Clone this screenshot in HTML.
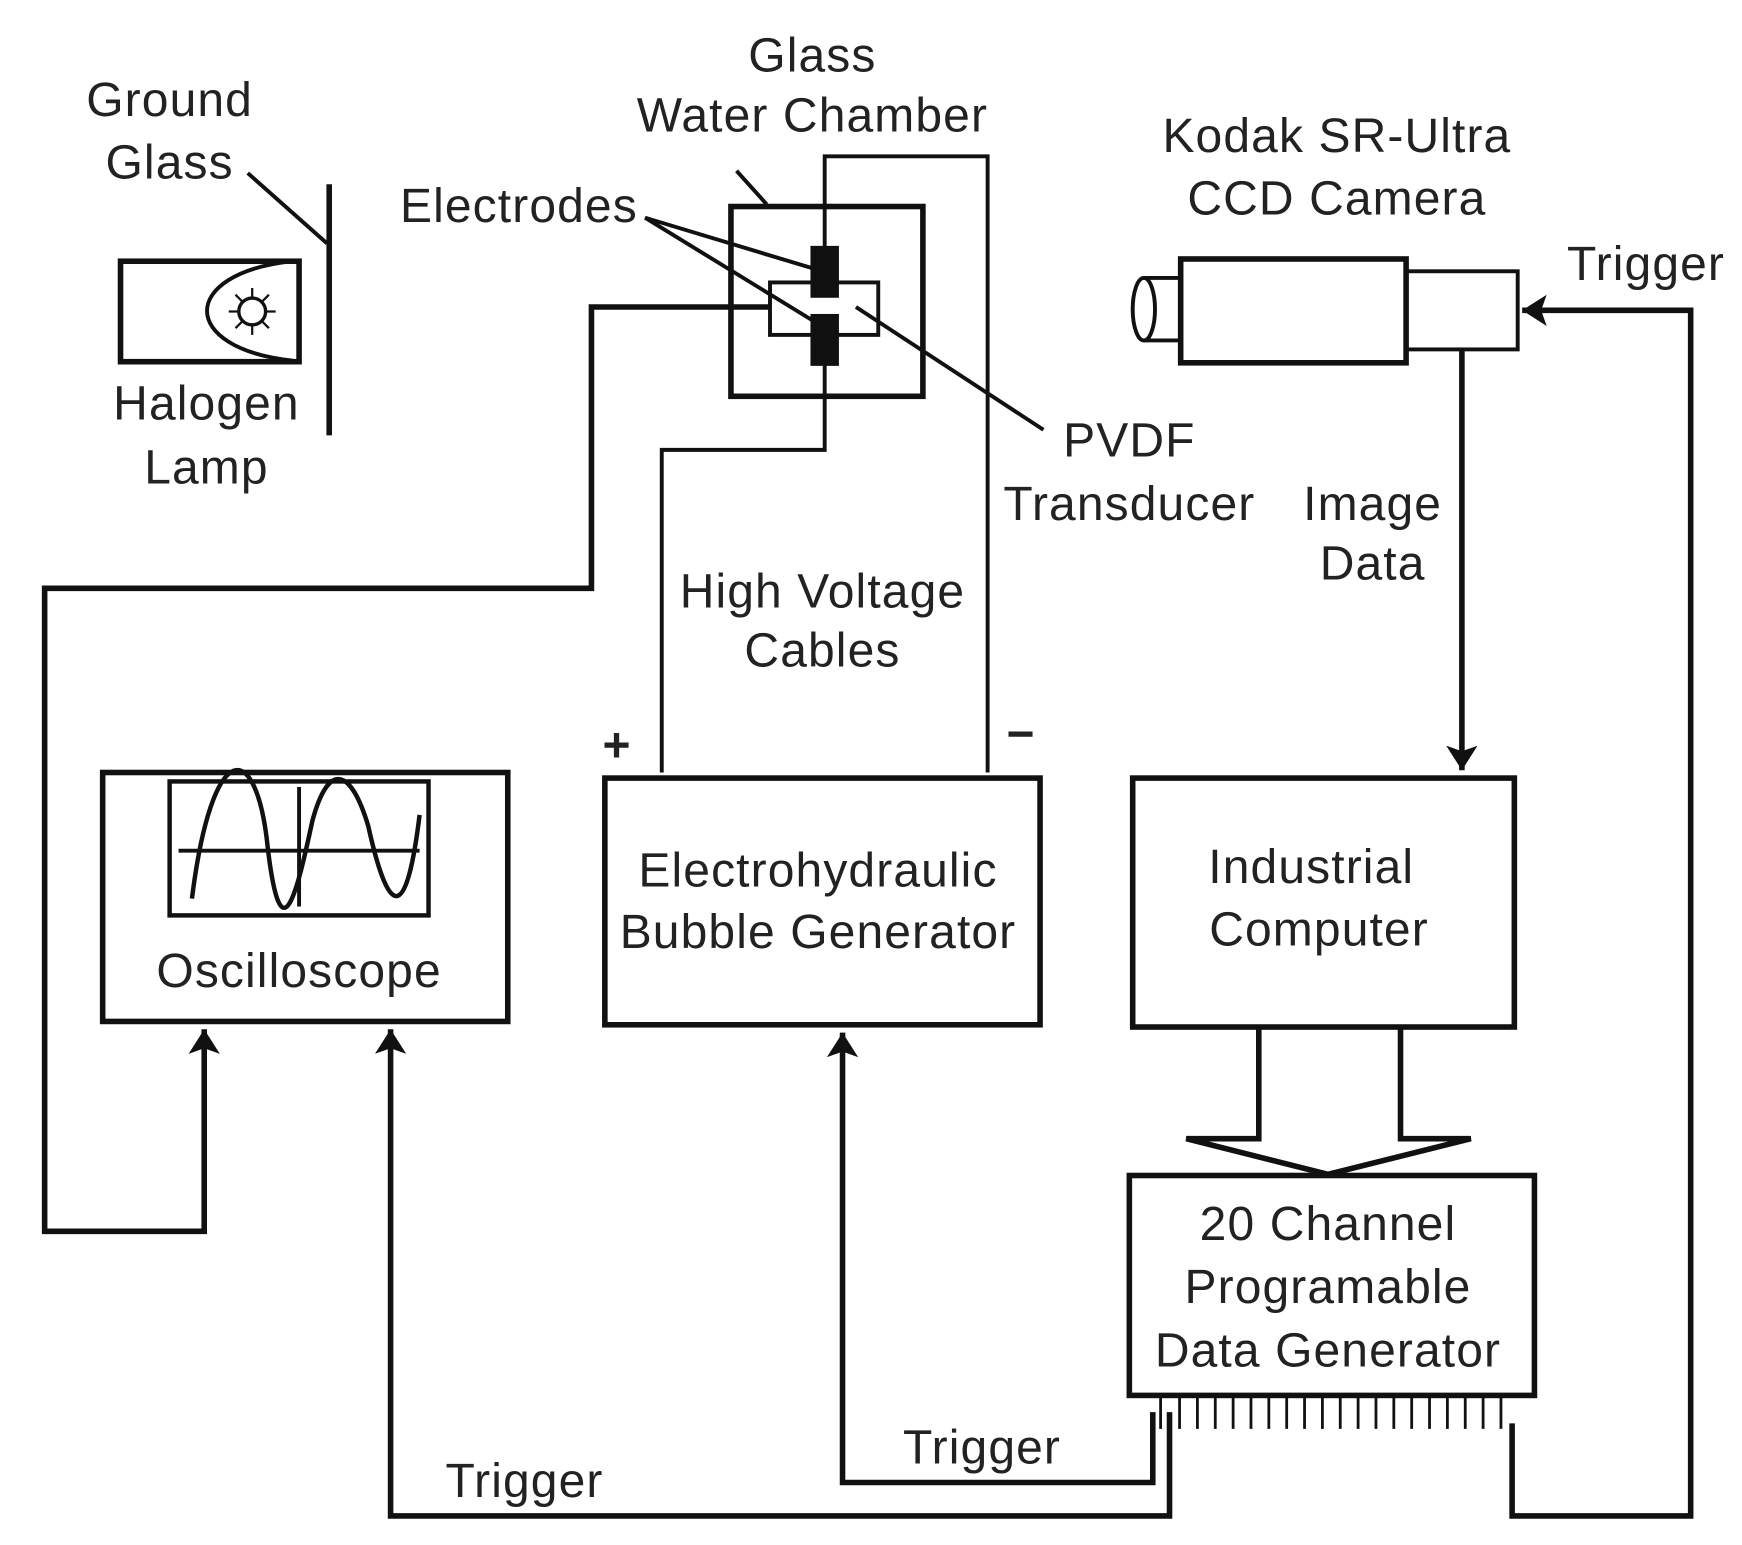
<!DOCTYPE html>
<html><head><meta charset="utf-8"><style>html,body{margin:0;padding:0;background:#fff}svg{display:block}</style></head>
<body>
<svg width="1742" height="1545" viewBox="0 0 1561 1384" preserveAspectRatio="none" xmlns="http://www.w3.org/2000/svg" font-family="Liberation Sans, sans-serif" font-size="43" letter-spacing="1" text-anchor="middle" fill="#222">
<defs>
<marker id="b" markerWidth="22" markerHeight="28" refX="22" refY="14" orient="auto" markerUnits="userSpaceOnUse"><path d="M0,0 L22,14 L0,28 L5,14 z" fill="#111"/></marker></defs>
<g stroke="#111" fill="none" stroke-width="3.5">
<line x1="295" y1="165" x2="295" y2="390" stroke-width="5"/>
<line x1="222" y1="155" x2="293" y2="218"/>
<rect x="108" y="234" width="160" height="90" stroke-width="5"/>
<path d="M262,234 C160,245 160,312 262,323"/>
<path d="M226,258 L226,300 M205,279 L247,279 M211,264 L241,294 M241,264 L211,294" stroke-width="2"/>
<circle cx="226" cy="279" r="12" fill="#fff" stroke="#111" stroke-width="3"/>
<line x1="660" y1="153" x2="687" y2="183"/>
<rect x="655" y="185" width="172" height="170" stroke-width="5"/>
<rect x="690" y="253" width="97" height="47"/>
<rect x="728" y="222" width="22" height="43" fill="#111"/>
<rect x="728" y="283" width="22" height="43" fill="#111"/>
<polyline points="739,222 739,140 885,140 885,692"/>
<polyline points="739,326 739,403 593,403 593,692"/>
<line x1="578" y1="195" x2="727" y2="240"/>
<line x1="578" y1="195" x2="733" y2="290"/>
<line x1="767" y1="275" x2="935" y2="385"/>
<polyline points="690,275 530,275 530,527 40,527 40,1103 183,1103 183,922" stroke-width="5" marker-end="url(#b)"/>
<ellipse cx="1025" cy="277" rx="10" ry="28"/>
<line x1="1025" y1="249" x2="1058" y2="249"/><line x1="1025" y1="305" x2="1058" y2="305"/>
<rect x="1058" y="232" width="202" height="93" stroke-width="5"/>
<rect x="1260" y="243" width="100" height="70"/>
<line x1="1310" y1="313" x2="1310" y2="690" stroke-width="5" marker-end="url(#b)"/>
<polyline points="1355,1275 1355,1358 1515,1358 1515,278 1364,278" stroke-width="5" marker-end="url(#b)"/>
<rect x="92" y="692" width="363" height="223" stroke-width="5"/>
<rect x="152" y="700" width="232" height="120" stroke-width="4"/>
<line x1="160" y1="762" x2="376" y2="762"/>
<line x1="268" y1="705" x2="268" y2="812"/>
<path d="M172,805 C190,660 230,660 240,760 C252,860 266,800 280,735 C295,680 315,690 330,740 C350,830 365,820 376,730" stroke-width="4"/>
<rect x="542" y="697" width="390" height="221" stroke-width="5"/>
<rect x="1015" y="697" width="342" height="223" stroke-width="5"/>
<polyline points="1128,920 1128,1020 1063,1020 1190,1052 1318,1020 1255,1020 1255,920" stroke-width="5"/>
<rect x="1012" y="1053" width="363" height="197" stroke-width="5"/>
<g stroke-width="2.5">
<path d="M1040,1252v28M1057,1252v28M1073,1252v28M1089,1252v28M1105,1252v28M1121,1252v28M1137,1252v28M1153,1252v28M1169,1252v28M1185,1252v28M1201,1252v28M1217,1252v28M1233,1252v28M1249,1252v28M1265,1252v28M1281,1252v28M1297,1252v28M1313,1252v28M1329,1252v28M1345,1252v28"/>
</g>
<polyline points="1033,1265 1033,1328 755,1328 755,925" stroke-width="5" marker-end="url(#b)"/>
<polyline points="1048,1265 1048,1358 350,1358 350,922" stroke-width="5" marker-end="url(#b)"/>
</g>
<text x="152" y="104">Ground</text><text x="152" y="160">Glass</text>
<text x="185" y="376">Halogen</text><text x="185" y="433">Lamp</text>
<text x="728" y="64">Glass</text><text x="728" y="118">Water Chamber</text>
<text x="465" y="199">Electrodes</text>
<text x="1012" y="409">PVDF</text><text x="1012" y="466">Transducer</text>
<text x="737" y="544">High Voltage</text><text x="737" y="597">Cables</text>
<text x="553" y="682" font-weight="bold">+</text><text x="915" y="672" font-weight="bold">−</text>
<text x="1198" y="136">Kodak SR-Ultra</text><text x="1198" y="192">CCD Camera</text>
<text x="1475" y="251">Trigger</text>
<text x="1230" y="466">Image</text><text x="1230" y="519">Data</text>
<text x="268" y="884">Oscilloscope</text>
<text x="733" y="794">Electrohydraulic</text><text x="733" y="849">Bubble Generator</text>
<text x="1175" y="791">Industrial</text><text x="1182" y="847">Computer</text>
<text x="1190" y="1111">20 Channel</text><text x="1190" y="1167">Programable</text><text x="1190" y="1224">Data Generator</text>
<text x="880" y="1311">Trigger</text><text x="470" y="1341">Trigger</text>
</svg>
</body></html>
